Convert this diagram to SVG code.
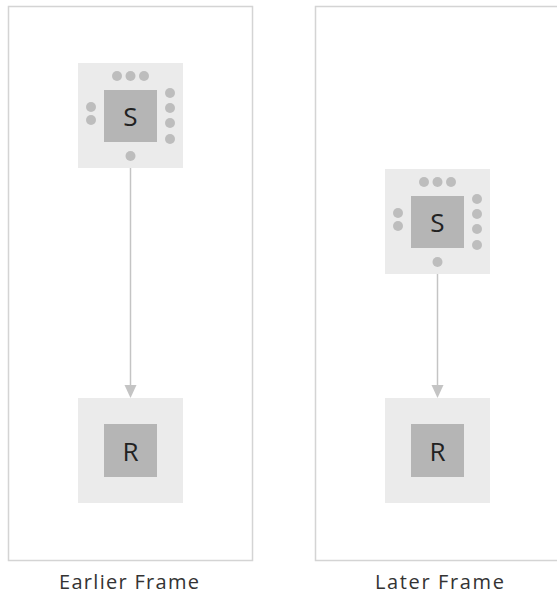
<svg xmlns="http://www.w3.org/2000/svg" width="557" height="596" viewBox="0 0 557 596">
<style>
.frame{fill:#fff;stroke:#d4d4d4;stroke-width:1.5}
.outer{fill:#ebebeb}
.inner{fill:#b5b5b5}
.dot{fill:#bdbdbd}
.lbl{font-family:"Open Sans","Noto Sans",sans-serif;font-size:26px;fill:#222;text-anchor:middle;dominant-baseline:central}
.cap{font-family:"Open Sans","Noto Sans",sans-serif;font-size:20px;fill:#333}
.edge{stroke:#c4c4c4;stroke-width:1.5;fill:none}
.head{fill:#c4c4c4}
</style>
<g id="frames">
<rect class="frame" x="8.5" y="6.5" width="244" height="554"/>
<rect class="frame" x="315.5" y="6.5" width="260" height="554"/>
<text class="cap" x="59" y="589" textLength="140" lengthAdjust="spacing">Earlier Frame</text>
<text class="cap" x="375" y="589" textLength="129" lengthAdjust="spacing">Later Frame</text>
</g>
<g id="connectors">
<line class="edge" x1="130.5" y1="161" x2="130.5" y2="388"/>
<path class="head" d="M124.5,385 L136.5,385 L130.5,398 Z"/>
<line class="edge" x1="437.5" y1="267" x2="437.5" y2="388"/>
<path class="head" d="M431.5,385 L443.5,385 L437.5,398 Z"/>
</g>
<g id="S1">
<rect class="outer" x="78" y="63" width="105" height="105"/>
<rect class="inner" x="104" y="90" width="53" height="52"/>
<text class="lbl" x="130.5" y="116">S</text>
<circle class="dot" cx="117" cy="76" r="5"/>
<circle class="dot" cx="130.5" cy="76" r="5"/>
<circle class="dot" cx="144" cy="76" r="5"/>
<circle class="dot" cx="91" cy="107" r="5"/>
<circle class="dot" cx="91" cy="120" r="5"/>
<circle class="dot" cx="170" cy="93" r="5"/>
<circle class="dot" cx="170" cy="108" r="5"/>
<circle class="dot" cx="170" cy="123" r="5"/>
<circle class="dot" cx="170" cy="139" r="5"/>
<circle class="dot" cx="130.5" cy="156" r="5"/>
</g>
<g id="R1">
<rect class="outer" x="78" y="398" width="105" height="105"/>
<rect class="inner" x="104" y="424" width="53" height="53"/>
<text class="lbl" x="130.5" y="450.5">R</text>
</g>
<g id="S2">
<rect class="outer" x="385" y="169" width="105" height="105"/>
<rect class="inner" x="411" y="196" width="53" height="52"/>
<text class="lbl" x="437.5" y="222">S</text>
<circle class="dot" cx="424" cy="182" r="5"/>
<circle class="dot" cx="437.5" cy="182" r="5"/>
<circle class="dot" cx="451" cy="182" r="5"/>
<circle class="dot" cx="398" cy="213" r="5"/>
<circle class="dot" cx="398" cy="226" r="5"/>
<circle class="dot" cx="477" cy="199" r="5"/>
<circle class="dot" cx="477" cy="214" r="5"/>
<circle class="dot" cx="477" cy="229" r="5"/>
<circle class="dot" cx="477" cy="245" r="5"/>
<circle class="dot" cx="437.5" cy="262" r="5"/>
</g>
<g id="R2">
<rect class="outer" x="385" y="398" width="105" height="105"/>
<rect class="inner" x="411" y="424" width="53" height="53"/>
<text class="lbl" x="437.5" y="450.5">R</text>
</g>
</svg>
